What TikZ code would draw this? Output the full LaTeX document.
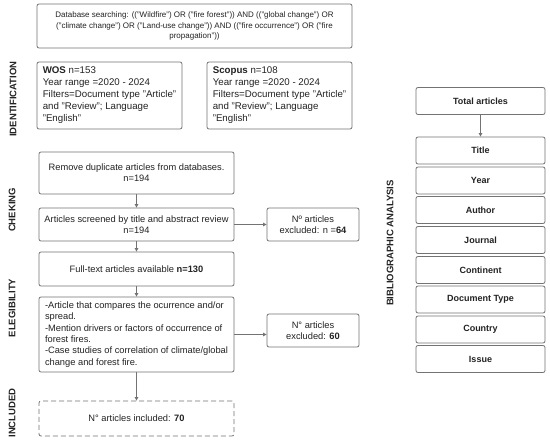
\documentclass[tikz,border=0pt]{standalone}
\usepackage{fontspec}
\setmainfont{Liberation Sans}
\usetikzlibrary{arrows.meta}
\definecolor{bd}{RGB}{115,115,115}
\definecolor{tx}{RGB}{35,35,35}
\hyphenpenalty=10000
\begin{document}
\begin{tikzpicture}[x=1pt,y=-1pt,
  box/.style={draw=bd, line width=0.8pt, rounded corners=2pt, text=tx, inner sep=0pt, align=center},
  arr/.style={draw=bd, line width=0.7pt, -{Triangle[length=3.5pt,width=3.5pt]}},
  side/.style={font=\fontsize{9.5}{11}\selectfont\bfseries, text=tx, rotate=90, inner sep=0pt},
  mid/.style={font=\fontsize{9.3}{11.3}\selectfont},
  big/.style={font=\fontsize{9.7}{12}\selectfont},
  rb/.style={box, minimum width=129, minimum height=27, font=\fontsize{9}{11}\selectfont\bfseries}]
\useasboundingbox (0,0) rectangle (550,446);
\fill[white] (0,0) rectangle (550,446);
% left flow
\node[box, minimum width=315, minimum height=44, font=\fontsize{8}{10.5}\selectfont] (search) at (194.5,26)
  {Database searching: (("Wildfire") OR ("fire forest")) AND (("global change") OR\\ ("climate change") OR ("Land-use change")) AND (("fire occurrence") OR ("fire\\ propagation"))};
\node[box, big, minimum width=145, minimum height=67, align=left] (wos) at (109.5,95.5)
  {\textbf{WOS} n=153\\Year range =2020 - 2024\\Filters=Document type "Article"\\and "Review"; Language\\"English"};
\node[box, big, minimum width=145, minimum height=67, align=left] (scopus) at (279.5,95.5)
  {\textbf{Scopus} n=108\\Year range =2020 - 2024\\Filters=Document type "Article"\\and "Review"; Language\\"English"};
\node[box, mid, minimum width=195, minimum height=42] (dup) at (136.5,173)
  {Remove duplicate articles from databases.\\n=194};
\node[box, mid, minimum width=195, minimum height=33] (scr) at (136.5,224.5)
  {Articles screened by title and abstract review\\n=194};
\node[box, mid, minimum width=92, minimum height=33] (ex64) at (313,224.5)
  {Nº articles\\excluded: n =\textbf{64}};
\node[box, mid, minimum width=195, minimum height=34] (full) at (136.5,269)
  {Full-text articles available \textbf{n=130}};
\node[box, mid, minimum width=195, minimum height=75, align=left] (eleg) at (136.5,334.5)
  {-Article that compares the ocurrence and/or\\spread.\\-Mention drivers or factors of occurrence of\\forest fires.\\-Case studies of correlation of climate/global\\change and forest fire.};
\node[box, mid, minimum width=92, minimum height=33] (ex60) at (313,330.5)
  {N° articles\\excluded: \textbf{60}};
\node[box, mid, dashed, dash pattern=on 5pt off 3pt, minimum width=195, minimum height=35] (incl) at (136.5,418.5)
  {N° articles included: \textbf{70}};
\draw[arr] (dup) -- (scr);
\draw[arr] (scr) -- (full);
\draw[arr] (full) -- (eleg);
\draw[arr] (eleg) -- (incl);
\draw[arr] (scr) -- (ex64);
\draw[arr] (eleg.east) -- (ex60.west |- eleg.east);
% side labels
\node[side] (lid) at (13,99) {IDENTIFICATION};
\node[side] (lch) at (12,210) {CHEKING};
\node[side] (lel) at (12,308) {ELEGIBILITY};
\node[side] (lin) at (12,413) {INCLUDED};
\node[side] (lbib) at (390,243) {BIBLIOGRAPHIC ANALYSIS};
% right column
\node[rb] (total) at (480.5,101) {Total articles};
\node[rb] (title) at (480.5,150.5) {Title};
\node[rb] (year) at (480.5,180.5) {Year};
\node[rb] (author) at (480.5,210) {Author};
\node[rb] (journal) at (480.5,240) {Journal};
\node[rb] (cont) at (480.5,270) {Continent};
\node[rb] (doct) at (480.5,299.5) {Document Type};
\node[rb] (country) at (480.5,329.5) {Country};
\node[rb] (issue) at (480.5,359) {Issue};
\draw[arr] (total) -- (title);
\end{tikzpicture}
\end{document}
